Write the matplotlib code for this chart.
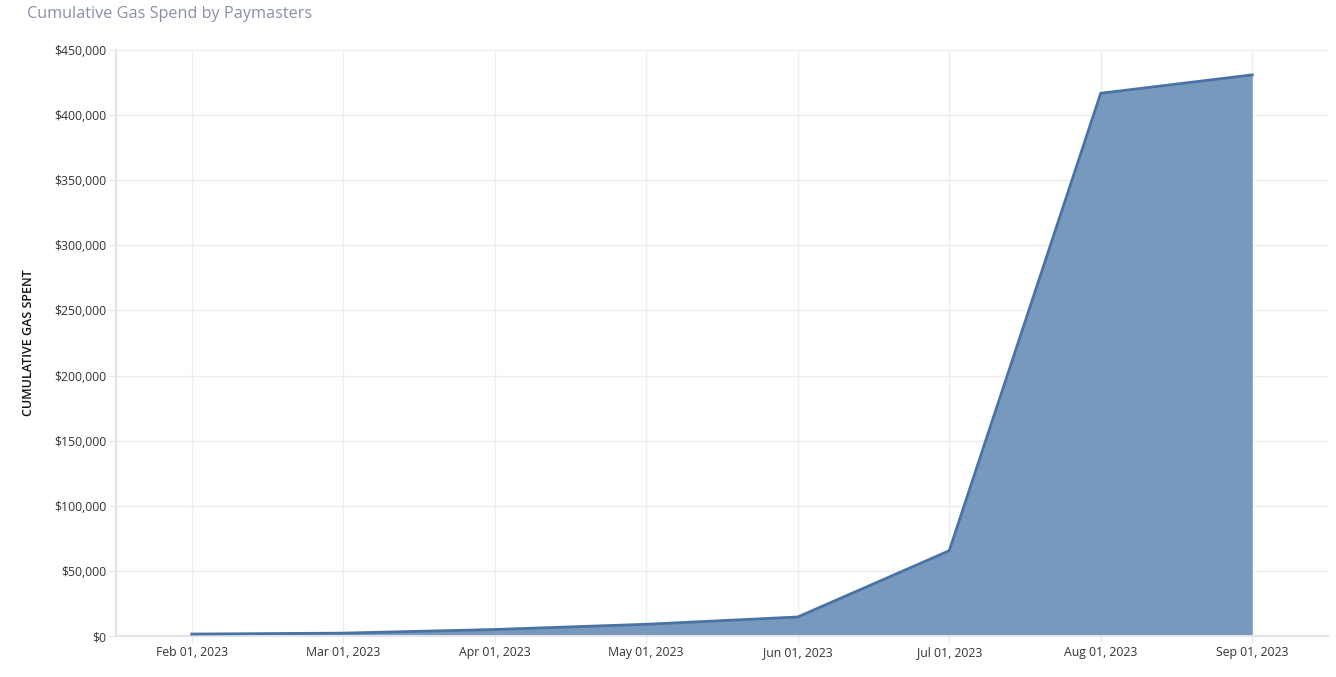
import matplotlib
matplotlib.use("Agg")
import matplotlib.pyplot as plt
from matplotlib.ticker import FuncFormatter, MultipleLocator

months = ["Feb 01, 2023", "Mar 01, 2023", "Apr 01, 2023", "May 01, 2023",
          "Jun 01, 2023", "Jul 01, 2023", "Aug 01, 2023", "Sep 01, 2023"]
cumulative_gas = [1500, 2200, 5000, 9000, 14600, 65500, 416800, 430900]

title = "Cumulative Gas Spend by Paymasters"
ylabel = "CUMULATIVE GAS SPENT"

plt.rcParams['font.family'] = ['Open Sans', 'DejaVu Sans']

fig = plt.figure(figsize=(13.36, 6.77), dpi=100)
ax = fig.add_axes([116/1336, 1-636/677, (1328-116)/1336, (636-50)/677])

x = list(range(len(months)))
ax.fill_between(x, cumulative_gas, 0, color="#7799be", linewidth=0, zorder=2)
ax.plot(x, cumulative_gas, color="#4a72a3", linewidth=2, zorder=3)

ax.set_xlim(-0.5, len(months) - 0.5)
ax.set_ylim(0, 450000)
ax.set_xticks(x)
ax.set_xticklabels(months)
ax.yaxis.set_major_locator(MultipleLocator(50000))
ax.yaxis.set_major_formatter(FuncFormatter(lambda v, p: f"${v:,.0f}"))

ax.grid(True, color="#ecedf2", linewidth=1, zorder=0)
ax.set_axisbelow(True)
for s in ["top", "right"]:
    ax.spines[s].set_visible(False)
for s in ["left", "bottom"]:
    ax.spines[s].set_color("#e3e4ea")
    ax.spines[s].set_linewidth(1.5)
ax.tick_params(axis="both", colors="#e3e4ea", labelcolor="#333333", labelsize=8.8, length=5)
ax.tick_params(axis="y", pad=2)
ax.tick_params(axis="x", pad=2)

ax.set_ylabel(ylabel, fontsize=9, fontweight="semibold", color="#111111", labelpad=14)
fig.text(27/1336, 1-14/677, title, fontsize=11.7, color="#8a90a6", va="center", ha="left")

fig.savefig("out.png", dpi=100, facecolor="white")
